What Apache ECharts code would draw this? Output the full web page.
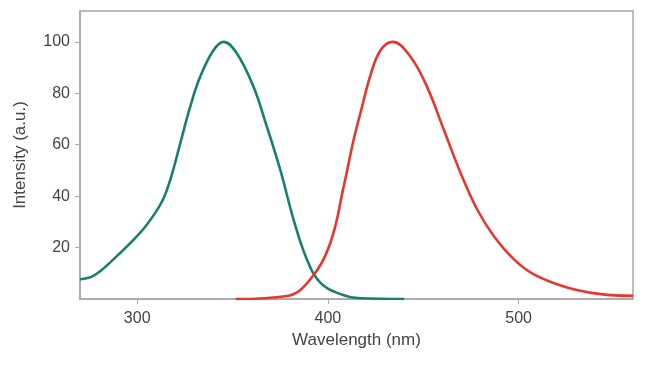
<!DOCTYPE html>
<html><head><meta charset="utf-8">
<script src="https://cdn.jsdelivr.net/npm/echarts@6/dist/echarts.min.js"></script>
<style>html,body{margin:0;padding:0;background:#fff}#c{width:650px;height:371px}</style>
</head><body><div id="c"></div>
<script>
// Excitation (teal) spectrum: [wavelength nm, intensity]
const excitation = [
  [270,7.7],[277,9],[287.5,15.4],[301.6,25.8],[309,33],[314,39.5],[318,48],[322.6,60.6],[327.8,74.8],
  [333,86.4],[340,96.7],[345.3,100],[352.3,95.5],[361,82.5],[368,67],[375,50.3],[382,30.9],
  [389,15.4],[396,6.4],[406.6,1.9],[417,0.3],[440,0]
];
// Emission (red) spectrum
const emission = [
  [351.6,0],[378.6,1.2],[390.8,7.7],[401.3,21.9],[408.3,43.8],[413.5,61.9],[418,75],[422.3,87],
  [427.6,96.7],[434,100],[443.3,94.2],[452,82.5],[460.8,65.8],[469.6,49],[478.3,34.8],
  [487,24.5],[497.6,15.4],[508,9.6],[525.5,4.5],[543,1.9],[560,1.2]
];
const xTicks = [300,400,500];
const yTicks = [20,40,60,80,100];

const txt = '#444';
const font = 'Liberation Sans, Arial, sans-serif';
const chart = echarts.init(document.getElementById('c'));
chart.setOption({
  animation:false,
  grid:{left:80,right:17,top:11,bottom:72,show:true,borderColor:'#a8a8a8',borderWidth:1.5,backgroundColor:'#fff'},
  xAxis:{type:'value',min:270,max:560,
    name:'Wavelength (nm)',nameLocation:'middle',nameGap:33,
    nameTextStyle:{color:txt,fontSize:17,fontFamily:font},
    axisLine:{lineStyle:{color:'#a8a8a8',width:1.5}},
    axisTick:{show:true,length:5,customValues:xTicks,lineStyle:{color:'#a8a8a8'}},
    axisLabel:{customValues:xTicks,color:txt,fontSize:16,fontFamily:font,margin:12},
    splitLine:{show:false}},
  yAxis:{type:'value',min:0,max:112,
    name:'Intensity (a.u.)',nameLocation:'middle',nameGap:51,
    nameTextStyle:{color:txt,fontSize:17,fontFamily:font},
    axisLine:{show:true,lineStyle:{color:'#a8a8a8',width:1.5}},
    axisTick:{show:true,length:5,customValues:yTicks,lineStyle:{color:'#a8a8a8'}},
    axisLabel:{customValues:yTicks,color:txt,fontSize:16,fontFamily:font,margin:10},
    splitLine:{show:false}},
  series:[
    {type:'line',data:excitation,smooth:0.4,showSymbol:false,lineStyle:{color:'#17806f',width:2.6}},
    {type:'line',data:emission,smooth:0.4,showSymbol:false,lineStyle:{color:'#e5372c',width:2.6}}
  ]
});
</script></body></html>
